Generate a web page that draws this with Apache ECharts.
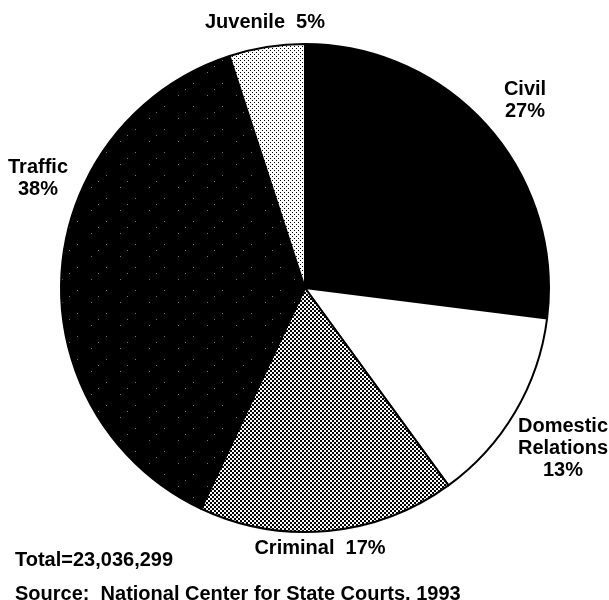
<!DOCTYPE html>
<html>
<head>
<meta charset="utf-8">
<script src="https://cdn.jsdelivr.net/npm/echarts@6/dist/echarts.min.js"></script>
<style>
  html, body { margin: 0; padding: 0; background: #fff; }
  #chart { width: 609px; height: 600px; }
</style>
</head>
<body>
<div id="chart"></div>
<script>
// Court caseload by case type (percent of total filings)
const categories = ['Civil', 'Domestic Relations', 'Criminal', 'Traffic', 'Juvenile'];
const shares = [27, 13, 17, 38, 5];
// How each category name is printed next to its slice
const labelNames = ['Civil', 'Domestic\nRelations', 'Criminal', 'Traffic', 'Juvenile'];
const labelJoin = ['\n', '\n', '  ', '\n', '  '];
const totalNote = 'Total=23,036,299';
const sourceNote = 'Source:  National Center for State Courts, 1993';

const FONT = '"Liberation Sans", Arial, Helvetica, sans-serif';

// Small repeating bitmap tiles used as slice fills
function tile(w, h, bg, fg, dots) {
  const c = document.createElement('canvas');
  c.width = w; c.height = h;
  const g = c.getContext('2d');
  g.fillStyle = bg; g.fillRect(0, 0, w, h);
  g.fillStyle = fg;
  dots.forEach(d => g.fillRect(d[0], d[1], d[2] || 1, d[3] || 1));
  return { image: c, repeat: 'repeat' };
}
// nearly solid black with a few faint specks
const speckledBlack = tile(29, 23, '#000', '#777', [[4, 3], [19, 14], [11, 20]]);
// fine checkerboard
const checker = tile(4, 4, '#fff', '#000', [[0, 0, 2, 2], [2, 2, 2, 2]]);
// light stipple
const stipple = tile(4, 4, '#fff', '#000', [[0, 0], [2, 2]]);

const fills = ['#000', '#fff', checker, speckledBlack, stipple];
// label anchor points (centre of each text block)
const labelSpots = [[525, 100], [563, 448], [320, 548], [38, 178], [265, 22]];

const chart = echarts.init(document.getElementById('chart'), null, { renderer: 'canvas' });
chart.setOption({
  animation: false,
  backgroundColor: '#fff',
  series: [{
    type: 'pie',
    center: [305, 288],
    radius: 244,
    startAngle: 90,
    clockwise: true,
    avoidLabelOverlap: false,
    minAngle: 0,
    data: categories.map((name, i) => ({
      name: name,
      value: shares[i],
      itemStyle: { color: fills[i] }
    })),
    itemStyle: { borderColor: '#000', borderWidth: 2 },
    emphasis: { disabled: true },
    label: {
      show: true,
      position: 'outside',
      color: '#000',
      fontFamily: FONT,
      fontWeight: 'bold',
      fontSize: 20,
      lineHeight: 22,
      align: 'center',
      formatter: p => labelNames[p.dataIndex] + labelJoin[p.dataIndex] + p.value + '%'
    },
    labelLine: { show: false },
    labelLayout: p => ({
      x: labelSpots[p.dataIndex][0],
      y: labelSpots[p.dataIndex][1],
      align: 'center',
      verticalAlign: 'middle'
    })
  }],
  graphic: [
    {
      type: 'text', x: 15, y: 560,
      style: { text: totalNote, fill: '#000', font: 'bold 20px ' + FONT, textVerticalAlign: 'middle' }
    },
    {
      type: 'text', x: 15, y: 594,
      style: { text: sourceNote, fill: '#000', font: 'bold 20px ' + FONT, textVerticalAlign: 'middle' }
    }
  ]
});
</script>
</body>
</html>
